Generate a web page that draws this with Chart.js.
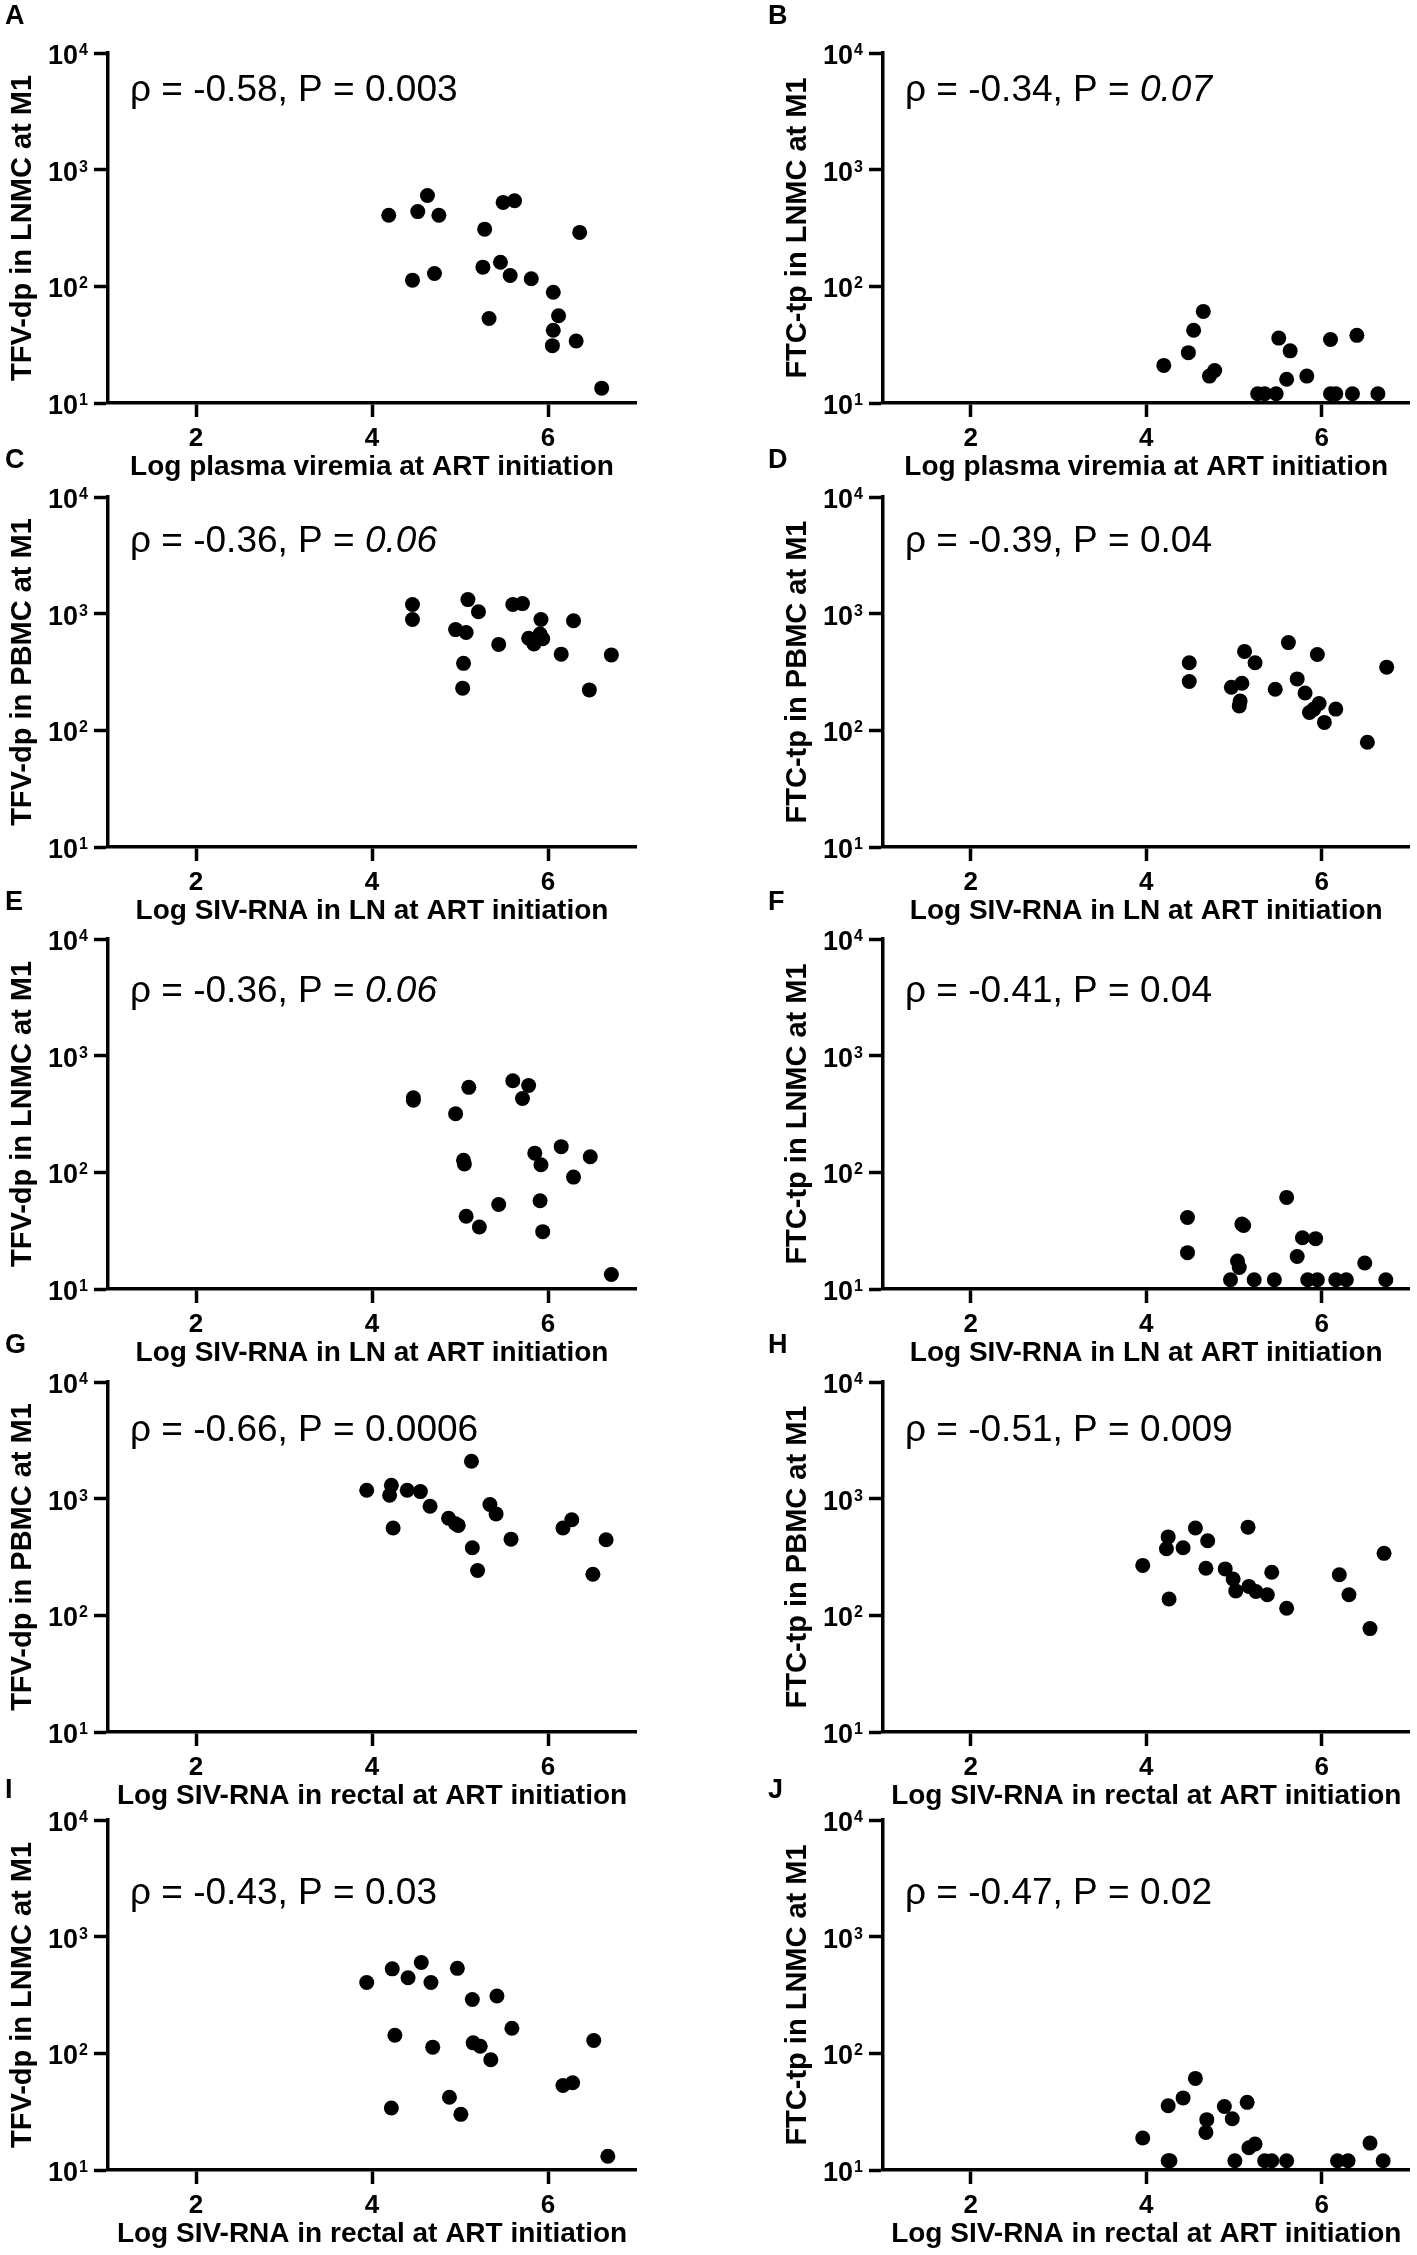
<!DOCTYPE html>
<html>
<head>
<meta charset="utf-8">
<script src="https://cdn.jsdelivr.net/npm/chart.js@4.4.0/dist/chart.umd.min.js"></script>
<style>
body { margin: 0; background: #fff; }
#fig { position: relative; width: 1417px; height: 2255px; overflow: hidden; }
#fig canvas { position: absolute; }
</style>
</head>
<body>
<div id="fig"></div>
<script>
// ---- data ----
var letters = ["A", "B", "C", "D", "E", "F", "G", "H", "I", "J"];
var xTitles = ["Log plasma viremia at ART initiation", "Log SIV-RNA in LN at ART initiation",
  "Log SIV-RNA in LN at ART initiation", "Log SIV-RNA in rectal at ART initiation",
  "Log SIV-RNA in rectal at ART initiation"];
var yTitles = ["TFV-dp in LNMC at M1", "FTC-tp in LNMC at M1", "TFV-dp in PBMC at M1", "FTC-tp in PBMC at M1",
  "TFV-dp in LNMC at M1", "FTC-tp in LNMC at M1", "TFV-dp in PBMC at M1", "FTC-tp in PBMC at M1",
  "TFV-dp in LNMC at M1", "FTC-tp in LNMC at M1"];
var rhos = ["-0.58", "-0.34", "-0.36", "-0.39", "-0.36", "-0.41", "-0.66", "-0.51", "-0.43", "-0.47"];
var pVals = ["0.003", "0.07", "0.06", "0.04", "0.06", "0.04", "0.0006", "0.009", "0.03", "0.02"];
var pItalic = [false, true, true, false, true, false, false, false, false, false];

var xTickVals = [2, 4, 6];
var yTickExp = [1, 2, 3, 4];

var aX = [4.19, 4.52, 4.63, 4.76, 4.46, 4.71, 5.28, 5.26, 5.33, 5.49, 5.62, 5.46, 5.57, 5.81, 6.06, 6.12, 6.06, 6.05, 6.36, 6.32, 6.61];
var aY = [407, 437, 600, 407, 113, 129, 309, 146, 53, 524, 541, 161, 124, 116, 89, 56, 42, 31, 290, 34, 13.4];
var bX = [4.20, 4.48, 4.54, 4.65, 4.72, 4.78, 5.27, 5.35, 5.48, 5.51, 5.64, 5.60, 5.83, 6.10, 6.10, 6.16, 6.40, 6.35, 6.64];
var bY = [21, 27, 42, 61, 17, 19, 12, 12, 12, 36, 28, 16, 17, 35, 12, 12, 38, 12, 12];
var cX = [4.46, 4.46, 5.09, 5.21, 4.95, 5.07, 5.04, 5.03, 5.44, 5.60, 5.71, 5.92, 5.78, 5.84, 5.91, 5.94, 6.15, 6.29, 6.72, 6.47];
var cY = [1200, 890, 1320, 1040, 730, 690, 375, 230, 545, 1200, 1220, 890, 615, 550, 670, 610, 450, 870, 443, 222];
var dX = [4.49, 4.49, 5.12, 5.24, 4.97, 5.09, 5.07, 5.06, 5.47, 5.62, 5.72, 5.81, 5.95, 5.97, 5.91, 5.86, 6.16, 6.03, 6.52, 6.74];
var dY = [380, 262, 475, 380, 234, 253, 178, 162, 225, 565, 276, 209, 447, 170, 152, 142, 152, 117, 79, 348];
var eX = [4.47, 4.47, 4.95, 5.10, 5.04, 5.05, 5.07, 5.22, 5.44, 5.60, 5.78, 5.71, 5.85, 5.92, 5.91, 5.94, 6.15, 6.29, 6.48, 6.72];
var eY = [435, 415, 318, 535, 127, 118, 42, 34, 53, 610, 555, 430, 146, 116, 57, 31, 166, 91, 136, 13.3];
var fX = [4.47, 4.47, 5.09, 5.11, 5.04, 5.06, 4.96, 5.23, 5.46, 5.60, 5.78, 5.93, 5.72, 5.84, 5.95, 6.16, 6.28, 6.49, 6.73];
var fY = [41, 20.5, 36, 35, 17.4, 15.3, 12, 12, 12, 61, 27.5, 27, 19, 12, 12, 12, 12, 16.7, 12];
var gX = [3.94, 4.22, 4.20, 4.24, 4.40, 4.55, 4.66, 4.87, 4.98, 4.95, 5.13, 5.14, 5.20, 5.34, 5.41, 5.58, 6.17, 6.27, 6.66, 6.51];
var gY = [1180, 1300, 1070, 560, 1180, 1150, 860, 680, 590, 610, 2090, 380, 242, 890, 740, 450, 560, 660, 445, 225];
var hX = [3.96, 4.25, 4.23, 4.26, 4.42, 4.56, 4.70, 4.68, 4.90, 4.99, 5.02, 5.16, 5.17, 5.25, 5.38, 5.43, 5.60, 6.20, 6.31, 6.55, 6.71];
var hY = [268, 470, 372, 138, 380, 560, 436, 253, 250, 205, 162, 570, 177, 160, 150, 234, 115, 223, 150, 77, 340];
var iX = [3.94, 4.23, 4.41, 4.56, 4.67, 4.26, 4.69, 4.22, 4.88, 5.01, 4.97, 5.14, 5.42, 5.15, 5.23, 5.35, 5.59, 6.17, 6.28, 6.52, 6.68];
var iY = [405, 530, 445, 600, 405, 143, 113, 34, 42, 30, 535, 289, 310, 123, 115, 88, 164, 53, 56, 129, 13.1];
var jX = [3.96, 4.25, 4.25, 4.27, 4.42, 4.56, 4.69, 4.68, 4.89, 4.98, 5.15, 5.01, 5.17, 5.24, 5.35, 5.43, 5.60, 6.18, 6.30, 6.55, 6.70];
var jY = [18.8, 35.5, 12, 12, 41.5, 61, 27, 21, 35, 27.5, 38, 12, 15.5, 16.7, 12, 12, 12, 12, 12, 17, 12];

var seriesX = [aX, bX, cX, dX, eX, fX, gX, hX, iX, jX];
var seriesY = [aY, bY, cY, dY, eY, fY, gY, hY, iY, jY];

// ---- layout (pixels) ----
var FONT = "'Liberation Sans', Arial, sans-serif";
var colLeft = [0, 709], colWidth = [709, 708];
var axisLeft = [108, 174], axisRight = [636, 703];
var rowTop = [53, 497, 939, 1382, 1820];
var plotH = 350, topPad = 50, xAxisH = 81, canvasH = 485;
var yAxisW = 102;
var annotDrop = [48, 55, 63, 59, 84];
var letterX = [5, 59];

Chart.defaults.font.family = FONT;
Chart.defaults.color = "#000";

var panelText = {
  id: "panelText",
  afterDraw: function(chart) {
    var o = chart.options.plugins.panelText;
    var ctx = chart.ctx, area = chart.chartArea, ys = chart.scales.y;
    ctx.save();
    ctx.fillStyle = "#000";
    // panel letter
    ctx.font = "bold 27px " + FONT;
    ctx.textAlign = "left";
    ctx.textBaseline = "alphabetic";
    ctx.fillText(o.letter, o.letterX, area.top - (o.row === 4 ? 22 : 29));
    // y tick labels 10^n
    yTickExp.forEach(function(e) {
      var py = ys.getPixelForValue(Math.pow(10, e));
      var right = area.left - 20;
      ctx.font = "bold 16px " + FONT;
      var sw = ctx.measureText(String(e)).width;
      ctx.fillText(String(e), right - sw, py + 2);
      ctx.font = "bold 27px " + FONT;
      var bw = ctx.measureText("10").width;
      ctx.fillText("10", right - sw - bw - 1, py + 11);
    });
    // correlation annotation
    var x = area.left + 22, y = area.top + o.drop;
    var head = "\u03c1 = " + o.rho + ", P = ";
    ctx.font = "37px " + FONT;
    ctx.fillText(head, x, y);
    x += ctx.measureText(head).width;
    ctx.font = (o.italic ? "italic " : "") + "37px " + FONT;
    ctx.fillText(o.p, x, y);
    ctx.restore();
  }
};

var fig = document.getElementById("fig");

for (var k = 0; k < 10; k++) {
  var col = k % 2, row = Math.floor(k / 2);
  var cv = document.createElement("canvas");
  cv.width = colWidth[col];
  cv.height = canvasH;
  cv.style.left = colLeft[col] + "px";
  cv.style.top = (rowTop[row] - topPad) + "px";
  fig.appendChild(cv);

  var pts = seriesX[k].map(function(x, i) { return { x: x, y: this[i] }; }, seriesY[k]);

  new Chart(cv, {
    type: "scatter",
    data: {
      datasets: [{
        data: pts,
        pointRadius: 7.5,
        pointHoverRadius: 7.5,
        backgroundColor: "#000",
        borderWidth: 0,
        clip: false
      }]
    },
    options: {
      responsive: false,
      animation: false,
      devicePixelRatio: 1,
      events: [],
      layout: {
        padding: {
          left: axisLeft[col] - yAxisW,
          right: colWidth[col] - axisRight[col],
          top: topPad,
          bottom: canvasH - topPad - plotH - xAxisH
        }
      },
      plugins: {
        legend: { display: false },
        tooltip: { enabled: false },
        panelText: {
          letter: letters[k], letterX: letterX[col], row: row,
          rho: rhos[k], p: pVals[k], italic: pItalic[k], drop: annotDrop[row]
        }
      },
      scales: {
        x: {
          type: "linear",
          min: 1,
          max: 7,
          afterBuildTicks: function(s) { s.ticks = xTickVals.map(function(v) { return { value: v }; }); },
          afterFit: function(s) { s.height = xAxisH; },
          grid: { drawOnChartArea: false, drawTicks: true, tickLength: 14, tickWidth: 3.5, tickColor: "#000" },
          border: { display: true, color: "#000", width: 3.5 },
          ticks: { color: "#000", font: { size: 26, weight: "bold" }, padding: 6, maxRotation: 0 },
          title: { display: true, text: xTitles[row], color: "#000", font: { size: 28, weight: "bold" }, padding: 0 }
        },
        y: {
          type: "logarithmic",
          min: 10,
          max: 10000,
          afterBuildTicks: function(s) { s.ticks = yTickExp.map(function(e) { return { value: Math.pow(10, e) }; }); },
          afterFit: function(s) { s.width = yAxisW; },
          grid: { drawOnChartArea: false, drawTicks: true, tickLength: 14, tickWidth: 3.5, tickColor: "#000" },
          border: { display: true, color: "#000", width: 3.5 },
          ticks: { display: false },
          title: { display: true, text: yTitles[k], color: "#000", font: { size: 29, weight: "bold" }, padding: 0 }
        }
      }
    },
    plugins: [panelText]
  });
}
</script>
</body>
</html>
